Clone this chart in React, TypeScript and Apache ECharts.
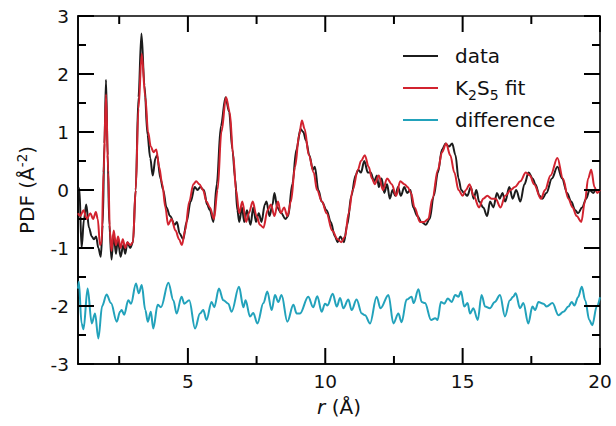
import React, { useEffect, useRef } from "react";
import * as echarts from "echarts";

// r (Å), PDF (Å^-2)
const dataCurve: [number, number][] = [
  [1.0, 0.0], [1.05, 0.03], [1.13, -1.0], [1.22, -0.5], [1.3, -0.25], [1.4, -0.65], [1.5, -0.8], [1.58, -0.85],
  [1.66, -0.8], [1.74, -1.0], [1.83, -1.15], [1.9, -0.6], [1.96, 0.8], [2.02, 1.9], [2.08, 0.6], [2.14, -0.6],
  [2.22, -1.2], [2.3, -0.75], [2.38, -1.1], [2.45, -0.85], [2.55, -1.15], [2.65, -0.95], [2.72, -1.1], [2.8, -0.9],
  [2.9, -1.0], [3.0, -0.9], [3.1, 0.0], [3.2, 1.6], [3.31, 2.7], [3.42, 1.8], [3.53, 0.95], [3.63, 0.55],
  [3.72, 0.25], [3.82, 0.55], [3.88, 0.6], [4.0, 0.2], [4.1, 0.0], [4.22, -0.3], [4.35, -0.45], [4.52, -0.6],
  [4.6, -0.55], [4.7, -0.75], [4.83, -0.85], [4.95, -0.55], [5.1, -0.2], [5.25, 0.05], [5.35, 0.0], [5.45, 0.05],
  [5.58, 0.0], [5.7, -0.25], [5.8, -0.35], [5.93, -0.55], [6.05, 0.1], [6.2, 1.1], [6.37, 1.6], [6.5, 1.35],
  [6.62, 0.7], [6.72, 0.2], [6.8, -0.35], [6.87, -0.55], [6.97, -0.3], [7.05, -0.55], [7.15, -0.35], [7.28, -0.6],
  [7.38, -0.3], [7.48, -0.55], [7.58, -0.4], [7.68, -0.55], [7.8, -0.25], [7.86, -0.2], [7.97, -0.45], [8.08, -0.25],
  [8.15, -0.05], [8.25, -0.3], [8.4, -0.4], [8.55, -0.5], [8.65, -0.45], [8.8, 0.1], [8.95, 0.7], [9.1, 1.05],
  [9.2, 1.0], [9.3, 0.85], [9.42, 0.6], [9.55, 0.35], [9.62, 0.4], [9.75, 0.0], [9.87, -0.2], [10.05, -0.35],
  [10.2, -0.55], [10.35, -0.8], [10.45, -0.9], [10.55, -0.8], [10.68, -0.9], [10.8, -0.6], [10.95, -0.1], [11.1, 0.25],
  [11.2, 0.35], [11.3, 0.3], [11.42, 0.5], [11.55, 0.3], [11.65, 0.3], [11.78, 0.15], [11.88, 0.25], [11.95, 0.05],
  [12.05, 0.2], [12.15, -0.05], [12.25, 0.1], [12.35, -0.15], [12.45, 0.0], [12.55, -0.1], [12.65, 0.05], [12.75, -0.1],
  [12.88, 0.05], [12.98, -0.05], [13.1, 0.0], [13.2, -0.3], [13.35, -0.45], [13.5, -0.55], [13.66, -0.6], [13.8, -0.5],
  [13.95, -0.1], [14.1, 0.3], [14.25, 0.7], [14.38, 0.8], [14.5, 0.75], [14.62, 0.8], [14.74, 0.6], [14.85, 0.2],
  [14.95, 0.0], [15.05, -0.05], [15.17, -0.1], [15.3, 0.05], [15.4, -0.15], [15.5, 0.0], [15.6, -0.2], [15.75, -0.3],
  [15.89, -0.45], [16.0, -0.2], [16.12, -0.3], [16.25, -0.05], [16.35, -0.15], [16.45, -0.05], [16.55, -0.2], [16.7, 0.05],
  [16.82, -0.15], [16.95, 0.0], [17.1, -0.2], [17.25, 0.1], [17.4, 0.3], [17.55, 0.2], [17.65, 0.1], [17.8, -0.1],
  [17.9, -0.15], [18.05, -0.05], [18.25, 0.2], [18.45, 0.4], [18.62, 0.2], [18.8, -0.05], [18.95, -0.2], [19.1, -0.35],
  [19.2, -0.4], [19.35, -0.3], [19.5, -0.15], [19.62, 0.0], [19.75, -0.05], [19.85, 0.0], [20.0, 0.0],
];

const fitCurve: [number, number][] = [
  [1.0, -0.4], [1.08, -0.45], [1.2, -0.35], [1.32, -0.5], [1.45, -0.4], [1.55, -0.5], [1.65, -0.38], [1.72, -0.5],
  [1.8, -0.95], [1.86, -0.9], [1.93, 0.3], [2.02, 1.65], [2.1, 0.3], [2.16, -0.7], [2.22, -1.05], [2.3, -0.7],
  [2.38, -0.95], [2.46, -0.8], [2.55, -1.0], [2.63, -0.85], [2.72, -1.0], [2.8, -0.9], [2.9, -0.95], [3.0, -0.9],
  [3.1, 0.0], [3.2, 1.4], [3.32, 2.35], [3.45, 1.6], [3.55, 1.0], [3.65, 0.75], [3.75, 0.65], [3.85, 0.7],
  [3.95, 0.4], [4.07, 0.1], [4.18, -0.3], [4.28, -0.6], [4.4, -0.5], [4.55, -0.7], [4.68, -0.85], [4.78, -0.95],
  [4.9, -0.7], [5.05, -0.2], [5.2, 0.1], [5.3, 0.15], [5.42, 0.1], [5.55, 0.0], [5.68, -0.2], [5.8, -0.3],
  [5.95, -0.5], [6.08, 0.0], [6.22, 1.0], [6.39, 1.6], [6.52, 1.35], [6.65, 0.6], [6.75, 0.0], [6.87, -0.4],
  [6.98, -0.2], [7.12, -0.55], [7.22, -0.4], [7.36, -0.2], [7.5, -0.45], [7.62, -0.6], [7.75, -0.65], [7.9, -0.35],
  [8.02, -0.25], [8.15, -0.45], [8.28, -0.2], [8.38, -0.4], [8.5, -0.3], [8.62, -0.45], [8.75, -0.2], [8.9, 0.4],
  [9.05, 0.95], [9.15, 1.2], [9.25, 1.05], [9.4, 0.6], [9.58, 0.3], [9.7, 0.0], [9.88, -0.2], [10.05, -0.4],
  [10.25, -0.7], [10.45, -0.85], [10.58, -0.9], [10.72, -0.8], [10.85, -0.4], [11.0, 0.0], [11.19, 0.35], [11.3, 0.5],
  [11.44, 0.6], [11.58, 0.4], [11.7, 0.2], [11.8, 0.1], [11.95, 0.25], [12.1, 0.0], [12.25, 0.2], [12.42, 0.1],
  [12.58, -0.1], [12.73, 0.15], [12.88, 0.1], [13.0, 0.05], [13.12, -0.05], [13.25, -0.3], [13.45, -0.55], [13.6, -0.55],
  [13.75, -0.5], [13.9, -0.15], [14.1, 0.35], [14.25, 0.65], [14.4, 0.8], [14.55, 0.6], [14.7, 0.3], [14.85, 0.0],
  [15.0, -0.1], [15.12, 0.0], [15.25, 0.1], [15.4, -0.1], [15.6, -0.3], [15.75, -0.15], [15.9, -0.1], [16.05, -0.15],
  [16.2, -0.15], [16.38, -0.3], [16.55, -0.1], [16.75, 0.0], [16.9, 0.05], [17.1, 0.15], [17.3, 0.3], [17.45, 0.25],
  [17.6, 0.1], [17.85, -0.15], [18.0, 0.0], [18.2, 0.25], [18.45, 0.55], [18.65, 0.2], [18.85, -0.15], [19.0, -0.3],
  [19.15, -0.45], [19.32, -0.55], [19.45, -0.2], [19.57, 0.2], [19.68, 0.35], [19.8, 0.05], [19.9, -0.05], [20.0, 0.0],
];

const diffCurve: [number, number][] = [
  [1.0, -1.7], [1.03, -1.58], [1.13, -2.3], [1.2, -2.4], [1.35, -1.7], [1.5, -2.3], [1.62, -2.13], [1.74, -2.56],
  [1.88, -2.0], [2.04, -1.8], [2.2, -1.95], [2.41, -2.27], [2.53, -2.1], [2.59, -2.07], [2.68, -2.15], [2.83, -1.9],
  [2.93, -1.96], [3.11, -1.61], [3.21, -1.78], [3.32, -1.64], [3.45, -2.07], [3.54, -2.27], [3.65, -2.1], [3.74, -2.39],
  [3.9, -1.98], [4.02, -2.02], [4.29, -1.6], [4.47, -1.9], [4.59, -2.13], [4.77, -1.84], [4.87, -1.96], [5.05, -1.9],
  [5.26, -2.39], [5.44, -2.13], [5.56, -2.07], [5.68, -2.24], [5.86, -1.93], [5.96, -2.02], [6.13, -1.7], [6.29, -1.9],
  [6.47, -1.96], [6.59, -2.1], [6.86, -1.67], [7.02, -2.02], [7.1, -1.9], [7.26, -2.18], [7.38, -2.12], [7.53, -2.3],
  [7.75, -1.95], [7.89, -1.75], [8.05, -2.07], [8.17, -1.81], [8.29, -1.93], [8.41, -1.81], [8.62, -2.27], [8.84, -1.98],
  [8.96, -2.13], [9.08, -2.13], [9.38, -1.84], [9.56, -2.02], [9.71, -1.83], [9.87, -2.1], [9.99, -1.96], [10.08, -1.99],
  [10.27, -1.79], [10.42, -2.01], [10.54, -1.86], [10.66, -2.04], [10.84, -1.89], [10.96, -2.07], [11.14, -1.89], [11.33, -2.13],
  [11.45, -2.16], [11.63, -2.3], [11.87, -1.84], [12.01, -2.04], [12.3, -1.81], [12.48, -2.3], [12.66, -2.13], [12.78, -2.28],
  [12.96, -1.89], [13.14, -1.84], [13.22, -1.95], [13.39, -1.71], [13.51, -1.93], [13.63, -1.95], [13.85, -2.24], [14.0, -2.21],
  [14.09, -2.24], [14.21, -1.93], [14.33, -1.96], [14.46, -1.87], [14.6, -1.93], [14.73, -1.81], [14.85, -1.84], [14.94, -1.75],
  [15.06, -2.01], [15.18, -1.95], [15.27, -2.13], [15.39, -2.04], [15.55, -2.24], [15.69, -1.81], [15.82, -2.01], [15.99, -2.04],
  [16.17, -1.93], [16.36, -1.81], [16.54, -2.18], [16.72, -1.9], [16.84, -1.84], [16.93, -1.78], [17.09, -2.04], [17.21, -1.95],
  [17.39, -2.3], [17.54, -2.01], [17.64, -2.07], [17.76, -1.93], [17.94, -1.96], [18.06, -2.01], [18.27, -1.95], [18.49, -2.16],
  [18.67, -2.1], [18.85, -2.01], [18.97, -1.93], [19.07, -1.99], [19.2, -1.85], [19.34, -1.67], [19.46, -1.9], [19.61, -2.24],
  [19.72, -2.33], [19.88, -2.01], [20.0, -1.85],
];

const xMajorTicks = [5, 10, 15, 20];
const xMinorTicks = [2.5, 7.5, 12.5, 17.5];
const yMajorTicks = [-3, -2, -1, 0, 1, 2, 3];
const yMinorTicks = [-2.5, -1.5, -0.5, 0.5, 1.5, 2.5];
const seriesNames = ["data", "K2S5 fit", "difference"];
const seriesColors = ["#1c1c1c", "#d2232f", "#22a2bb"];

const X_MIN = 1, X_MAX = 20, Y_MIN = -3, Y_MAX = 3;
const MAJOR_PX = 16, MINOR_PX = 8;
const FONT = "DejaVu Sans, Liberation Sans, sans-serif";
const AXIS_COLOR = "#000000";
const TICK_WIDTH = 2;

export default function App() {
  const ref = useRef<HTMLDivElement>(null);
  useEffect(() => {
    if (!ref.current) return;
    const chart = echarts.init(ref.current, undefined, { renderer: "svg" });

    // tick items: [x, y, side, length]; side 0 bottom, 1 top, 2 left, 3 right
    const tickItems: number[][] = [];
    xMajorTicks.forEach((v) => { tickItems.push([v, 0, 0, MAJOR_PX]); tickItems.push([v, 0, 1, MAJOR_PX]); });
    xMinorTicks.forEach((v) => { tickItems.push([v, 0, 0, MINOR_PX]); tickItems.push([v, 0, 1, MINOR_PX]); });
    yMajorTicks.forEach((v) => { tickItems.push([10, v, 2, MAJOR_PX]); tickItems.push([10, v, 3, MAJOR_PX]); });
    yMinorTicks.forEach((v) => { tickItems.push([10, v, 2, MINOR_PX]); tickItems.push([10, v, 3, MINOR_PX]); });

    const curves = [dataCurve, fitCurve, diffCurve];
    chart.setOption({
      animation: false,
      grid: { left: 78, right: 16, top: 16, bottom: 62, show: true, borderColor: AXIS_COLOR, borderWidth: 1.6, backgroundColor: "transparent" },
      xAxis: {
        type: "value",
        min: X_MIN,
        max: X_MAX,
        axisLine: { show: true, onZero: false, lineStyle: { color: AXIS_COLOR, width: 1.6 } },
        axisTick: { show: false },
        axisLabel: { show: true, customValues: xMajorTicks, fontSize: 18.5, fontFamily: FONT, color: "#111", margin: 8 },
        splitLine: { show: false },
        name: "{i|r} (Å)",
        nameLocation: "middle",
        nameGap: 33,
        nameTextStyle: {
          fontSize: 20,
          fontFamily: FONT,
          color: "#111",
          rich: { i: { fontStyle: "italic", fontSize: 20, fontFamily: FONT, color: "#111" } },
        },
      },
      yAxis: {
        type: "value",
        min: Y_MIN,
        max: Y_MAX,
        interval: 1,
        axisLine: { show: true, onZero: false, lineStyle: { color: AXIS_COLOR, width: 1.6 } },
        axisTick: { show: false },
        axisLabel: { show: true, fontSize: 18.5, fontFamily: FONT, color: "#111", margin: 9, showMinLabel: true, showMaxLabel: true },
        splitLine: { show: false },
        name: "PDF (Å{sup|-2})",
        nameLocation: "middle",
        nameGap: 36,
        nameTextStyle: {
          fontSize: 20,
          fontFamily: FONT,
          color: "#111",
          lineHeight: 24,
          rich: {
            sup: { fontSize: 13.5, fontFamily: FONT, color: "#111", lineHeight: 13, padding: [0, 0, 11, 0] },
          },
        },
      },
      legend: {
        orient: "vertical",
        left: 403,
        top: 42,
        padding: 0,
        itemWidth: 35,
        itemHeight: 2,
        itemGap: 4,
        icon: "rect",
        data: seriesNames,
        formatter: (name: string) => (name === "K2S5 fit" ? "K{sub|2}S{sub|5} fit" : name),
        textStyle: {
          fontSize: 20,
          fontFamily: FONT,
          color: "#111",
          lineHeight: 28,
          padding: [0, 0, 0, 12],
          rich: {
            sub: { fontSize: 14, fontFamily: FONT, color: "#111", lineHeight: 14, padding: [14, 0, 0, 0] },
          },
        },
      },
      series: [
        ...curves.map((c, i) => ({
          name: seriesNames[i],
          type: "line",
          data: c,
          showSymbol: false,
          symbol: "none",
          smooth: 0.35,
          smoothMonotone: "x",
          color: seriesColors[i],
          lineStyle: { color: seriesColors[i], width: 2 },
          z: 2 + i,
        })),
        {
          name: "axis ticks",
          type: "custom",
          silent: true,
          z: 10,
          data: tickItems,
          renderItem: (_p: any, api: any) => {
            const side = api.value(2);
            const len = api.value(3);
            if (side === 0 || side === 1) {
              const c = api.coord([api.value(0), side === 0 ? Y_MIN : Y_MAX]);
              const d = side === 0 ? -len : len;
              return { type: "line", shape: { x1: c[0], y1: c[1], x2: c[0], y2: c[1] + d }, style: { stroke: AXIS_COLOR, lineWidth: TICK_WIDTH } };
            }
            const c = api.coord([side === 2 ? X_MIN : X_MAX, api.value(1)]);
            const d = side === 2 ? len : -len;
            return { type: "line", shape: { x1: c[0], y1: c[1], x2: c[0] + d, y2: c[1] }, style: { stroke: AXIS_COLOR, lineWidth: TICK_WIDTH } };
          },
        },
      ],
    });
    return () => chart.dispose();
  }, []);
  return <div ref={ref} style={{ position: "absolute", left: 0, top: 0, width: 616, height: 426 }} />;
}
